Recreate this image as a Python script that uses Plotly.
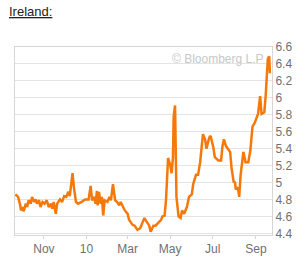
import plotly.graph_objects as go

dates = [
    "2009-09-21", "2009-09-25", "2009-09-28", "2009-09-29", "2009-10-01", "2009-10-03",
    "2009-10-06", "2009-10-08", "2009-10-10", "2009-10-13", "2009-10-15", "2009-10-18",
    "2009-10-20", "2009-10-22", "2009-10-25", "2009-10-27", "2009-10-30", "2009-11-02",
    "2009-11-05", "2009-11-08", "2009-11-11", "2009-11-13", "2009-11-15", "2009-11-18",
    "2009-11-20", "2009-11-24", "2009-11-27", "2009-11-30", "2009-12-03", "2009-12-06",
    "2009-12-08", "2009-12-12", "2009-12-14", "2009-12-17", "2009-12-20", "2009-12-25",
    "2009-12-30", "2010-01-04", "2010-01-07", "2010-01-09", "2010-01-12", "2010-01-14",
    "2010-01-16", "2010-01-17", "2010-01-19", "2010-01-21", "2010-01-23", "2010-01-25",
    "2010-01-27", "2010-01-31", "2010-02-03", "2010-02-05", "2010-02-08", "2010-02-11",
    "2010-02-14", "2010-02-17", "2010-02-19", "2010-02-22", "2010-02-25", "2010-03-01",
    "2010-03-03", "2010-03-08", "2010-03-11", "2010-03-15", "2010-03-19", "2010-03-22",
    "2010-03-25", "2010-03-28", "2010-04-01", "2010-04-03", "2010-04-07", "2010-04-10",
    "2010-04-14", "2010-04-18", "2010-04-20", "2010-04-23", "2010-04-25", "2010-04-26",
    "2010-04-28", "2010-05-01", "2010-05-03", "2010-05-05", "2010-05-06", "2010-05-08",
    "2010-05-10", "2010-05-13", "2010-05-16", "2010-05-18", "2010-05-21", "2010-05-25",
    "2010-05-28", "2010-06-01", "2010-06-03", "2010-06-07", "2010-06-10", "2010-06-13",
    "2010-06-15", "2010-06-17", "2010-06-20", "2010-06-22", "2010-06-26", "2010-06-28",
    "2010-07-02", "2010-07-04", "2010-07-09", "2010-07-13", "2010-07-15", "2010-07-17",
    "2010-07-20", "2010-07-22", "2010-07-26", "2010-07-28", "2010-07-31", "2010-08-02",
    "2010-08-03", "2010-08-06", "2010-08-08", "2010-08-10", "2010-08-14", "2010-08-17",
    "2010-08-21", "2010-08-24", "2010-08-27", "2010-08-30", "2010-09-01", "2010-09-04",
    "2010-09-07", "2010-09-09", "2010-09-13", "2010-09-15", "2010-09-18", "2010-09-20",
    "2010-09-21",
]
yields = [
    4.86, 4.83, 4.73, 4.67, 4.71, 4.66,
    4.75, 4.71, 4.79, 4.75, 4.83, 4.77,
    4.80, 4.75, 4.79, 4.71, 4.77, 4.75,
    4.79, 4.71, 4.75, 4.69, 4.77, 4.63,
    4.75, 4.80, 4.77, 4.84, 4.83, 4.89,
    4.84, 5.11, 4.94, 4.77, 4.75, 4.77,
    4.80, 4.80, 4.96, 4.79, 4.83, 4.75,
    4.90, 4.73, 4.89, 4.75, 4.83, 4.61,
    4.79, 4.77, 4.83, 4.79, 4.98, 4.79,
    4.77, 4.73, 4.77, 4.71, 4.67, 4.63,
    4.56, 4.50, 4.49, 4.44, 4.46, 4.52,
    4.58, 4.54, 4.49, 4.42, 4.49, 4.49,
    4.52, 4.56, 4.60, 4.61, 4.79, 4.98,
    5.29, 5.21, 5.11, 5.29, 5.78, 5.91,
    4.83, 4.60, 4.58, 4.67, 4.63, 4.71,
    4.83, 4.86, 4.98, 5.09, 5.09, 5.24,
    5.40, 5.57, 5.51, 5.40, 5.53, 5.55,
    5.41, 5.30, 5.26, 5.26, 5.43, 5.51,
    5.43, 5.41, 5.36, 5.17, 5.01, 5.00,
    4.92, 4.94, 4.83, 5.09, 5.36, 5.24,
    5.24, 5.38, 5.66, 5.70, 5.74, 5.81,
    6.02, 5.81, 5.83, 6.03, 6.46, 6.49,
    6.29,
]
x_range = ["2009-09-20 12:00", "2010-09-24"]
y_range = [4.38, 6.6]
tick_dates = ["2009-11-01", "2010-01-01", "2010-03-01", "2010-05-01", "2010-07-01", "2010-09-01"]
tick_labels = ["Nov", "10", "Mar", "May", "Jul", "Sep"]
y_ticks = [4.4, 4.6, 4.8, 5.0, 5.2, 5.4, 5.6, 5.8, 6.0, 6.2, 6.4, 6.6]
y_labels = ["4.4", "4.6", "4.8", "5", "5.2", "5.4", "5.6", "5.8", "6", "6.2", "6.4", "6.6"]

fig = go.Figure()
fig.add_trace(go.Scatter(
    x=dates, y=yields, mode="lines",
    line=dict(color="#f5780a", width=2.5),
    hoverinfo="skip",
))

fig.update_layout(
    width=305, height=268,
    margin=dict(l=15, r=33, t=47, b=26),
    paper_bgcolor="white", plot_bgcolor="white",
    showlegend=False,
    font=dict(family="Liberation Sans, Arial, sans-serif", size=12, color="#707070"),
    xaxis=dict(
        range=x_range, tickvals=tick_dates, ticktext=tick_labels,
        showgrid=False, showline=True, linecolor="#d6d6d6", linewidth=1, mirror=True,
        ticks="outside", ticklen=3, tickcolor="#d6d6d6", zeroline=False,
        tickfont=dict(size=12, color="#707070"),
    ),
    yaxis=dict(
        range=y_range, side="right", tickvals=y_ticks, ticktext=y_labels,
        showgrid=True, gridcolor="#e4e4e4", gridwidth=1,
        showline=True, linecolor="#d6d6d6", linewidth=1, mirror=True,
        ticks="", zeroline=False,
        tickfont=dict(size=12, color="#707070"),
    ),
    annotations=[
        dict(text="<u>Ireland:</u>", xref="paper", yref="paper",
             x=-0.031, y=1.19, xanchor="left", yanchor="middle", showarrow=False,
             font=dict(size=13, color="#222222", family="Liberation Sans, Arial, sans-serif")),
        dict(text="© Bloomberg L.P", xref="paper", yref="paper",
             x=0.975, y=0.938, xanchor="right", yanchor="middle", showarrow=False,
             font=dict(size=12, color="#c8c8c8", family="Liberation Sans, Arial, sans-serif")),
    ],
)

fig.write_html("out.html")
